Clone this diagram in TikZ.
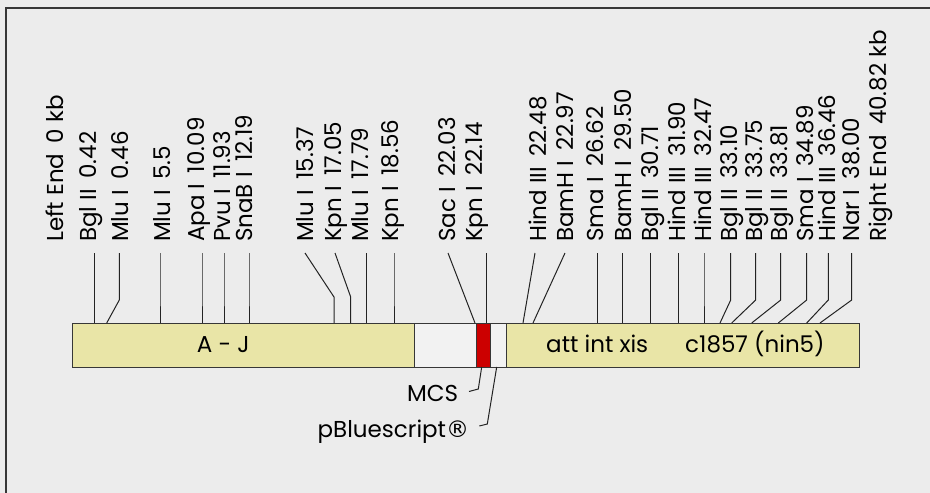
\documentclass[tikz,border=0pt]{standalone}
\usepackage{fontspec}
\setmainfont{Poppins}
\newfontfamily\symfont{DejaVu Sans}
\definecolor{bg}{RGB}{236,236,236}
\definecolor{barY}{RGB}{233,229,167}
\definecolor{barW}{RGB}{242,242,242}
\definecolor{barR}{RGB}{204,0,0}
\definecolor{frm}{RGB}{55,55,55}
\definecolor{tick}{RGB}{35,35,35}
\newcommand\lsp{\hspace{0.45em}}
\begin{document}
\begin{tikzpicture}[x=1pt,y=-1pt,
  lab/.style={rotate=90,anchor=base west,inner sep=0pt,font=\fontsize{23}{23}\selectfont},
  bartxt/.style={anchor=base west,inner sep=0pt,font=\fontsize{23}{23}\selectfont},
  tk/.style={draw=tick,line width=1pt},
  seg/.style={draw=frm,line width=1pt,anchor=north west,inner sep=0pt,minimum height=44pt}]
\useasboundingbox (0,0) rectangle (930,493);
\fill[bg] (0,0) rectangle (930,493);
\draw[frm,line width=2pt] (6,493) -- (6,8) -- (930,8);
% bar
\node[seg,fill=barY,minimum width=342pt] (sA) at (72,323) {};
\node[seg,fill=barW,minimum width=62pt] (sG) at (414,323) {};
\node[seg,fill=barR,minimum width=14pt] (sR) at (476,323) {};
\node[seg,fill=barW,minimum width=16pt] (sW) at (490,323) {};
\node[seg,fill=barY,minimum width=353pt] (sB) at (506,323) {};
\node[bartxt] (tA) at (196.7,352) {A - J};
\node[bartxt] (tB) at (546,352) {att int xis};
\node[bartxt] (tC) at (685,352) {c1857 (nin5)};
% labels
\foreach \i/\x/\t in {
 1/63.3/{Left End\lsp 0 kb},
 2/96.7/{Bgl II\lsp 0.42},
 3/128/{Mlu I\lsp 0.46},
 4/170/{Mlu I\lsp 5.5},
 5/204/{Apa I\lsp 10.09},
 6/230/{Pvu I\lsp 11.93},
 7/252.7/{SnaB I\lsp 12.19},
 8/313.3/{Mlu I\lsp 15.37},
 9/341.7/{Kpn I\lsp 17.05},
 10/368.3/{Mlu I\lsp 17.79},
 11/398.3/{Kpn I\lsp 18.56},
 12/455/{Sac I\lsp 22.03},
 13/482.7/{Kpn I\lsp 22.14},
 14/546/{Hind III\lsp 22.48},
 15/573.3/{BamH I\lsp 22.97},
 16/603.3/{Sma I\lsp 26.62},
 17/631.7/{BamH I\lsp 29.50},
 18/658.3/{Bgl II\lsp 30.71},
 19/685/{Hind III\lsp 31.90},
 20/711.7/{Hind III\lsp 32.47},
 21/737.3/{Bgl II\lsp 33.10},
 22/762.7/{Bgl II\lsp 33.75},
 23/787.3/{Bgl II\lsp 33.81},
 24/813.3/{Sma I\lsp 34.89},
 25/835/{Hind III\lsp 36.46},
 26/859.3/{Nar I\lsp 38.00},
 27/886.7/{Right End\lsp 40.82 kb}}
 \node[lab] (L\i) at (\x,242) {\t};
% ticks: top x / knee x / knee y / bar x
\foreach \n/\tx/\kx/\ky/\bx in {
 2/94.3/94.3/290/94.3,
 3/119.3/119.3/300/106.7,
 4/160/160/290/160,
 5/202/202/290/202,
 6/224/224/290/224,
 7/249/249/290/249,
 8/305/334/297/334,
 9/335/350.7/297/350.7,
 10/366.7/366.7/290/366.7,
 11/394/394/290/394,
 12/448/461.5/288/475,
 13/486.7/486.7/290/486.7,
 14/535/529/288/523,
 15/565/549/288/533,
 16/597.7/597.7/290/597.7,
 17/622.7/622.7/290/622.7,
 18/650.7/650.7/290/650.7,
 19/678.3/678.3/290/678.3,
 20/704/704/290/704,
 21/730.7/730.7/300/720,
 22/755.7/755.7/300/731.7,
 23/780.7/780.7/300/751.7,
 24/806.7/806.7/300/778.3,
 25/828.3/828.3/300/806.7,
 26/851.7/851.7/300/820}
 {
 \coordinate (t\n) at (\tx,253);
 \coordinate (k\n) at (\kx,\ky);
 \coordinate (b\n) at (\bx,323);
 \draw[tk] (t\n) -- (k\n) -- (b\n);
 }
% callouts
\node[bartxt,anchor=base east] (mcs) at (458.3,401.7) {MCS};
\node[bartxt,anchor=base east] (pbs) at (469.3,437) {pBluescript{\symfont ®}};
\coordinate (m1) at (481.7,367);
\coordinate (m2) at (478.3,389);
\coordinate (m3) at (469,391.5);
\draw[tk] (m1) -- (m2) -- (m3);
\coordinate (p1) at (496.7,367);
\coordinate (p2) at (487.3,424);
\coordinate (p3) at (479.3,426);
\draw[tk] (p1) -- (p2) -- (p3);
\end{tikzpicture}
\end{document}
